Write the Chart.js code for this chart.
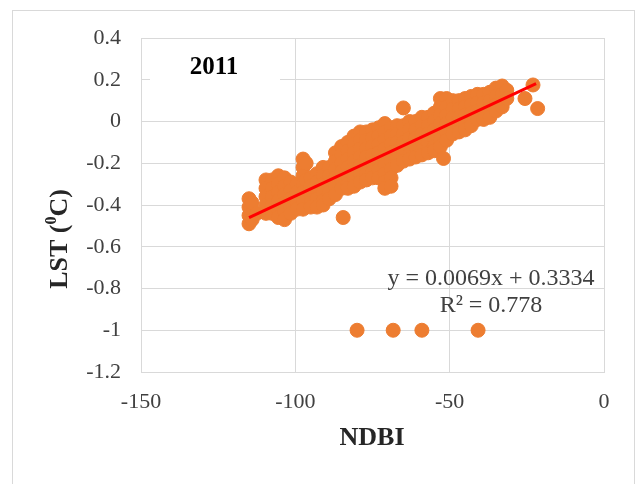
<!DOCTYPE html>
<html>
<head>
<meta charset="utf-8">
<script src="https://cdn.jsdelivr.net/npm/chart.js@4.4.0/dist/chart.umd.min.js"></script>
<style>
  html, body { margin: 0; padding: 0; background: #fff; }
  #wrap { width: 639px; height: 484px; position: relative; }
</style>
</head>
<body>
<div id="wrap"><canvas id="lst-chart" width="639" height="484"></canvas></div>
<script>
// LST vs NDBI scatter, 2011

// axis ticks
const xTicks = [-150, -100, -50, 0];
const yTicks = [0.4, 0.2, 0, -0.2, -0.4, -0.6, -0.8, -1, -1.2];

// main cloud of points [NDBI, LST]
const bandPoints = [
  [-115, -0.37], [-115, -0.41], [-115, -0.45], [-115, -0.49], [-114, -0.39], [-114, -0.47],
  [-112.5, -0.44],
  [-109.5, -0.28], [-109.5, -0.32], [-109.5, -0.36], [-109.5, -0.40], [-109.5, -0.44],
  [-107.5, -0.28], [-107.5, -0.32], [-107.5, -0.36], [-107.5, -0.40], [-107.5, -0.44],
  [-105.5, -0.26], [-105.5, -0.30], [-105.5, -0.34], [-105.5, -0.38], [-105.5, -0.42], [-105.5, -0.46],
  [-103.5, -0.27], [-103.5, -0.31], [-103.5, -0.35], [-103.5, -0.39], [-103.5, -0.43], [-103.5, -0.47],
  [-101.5, -0.29], [-101.5, -0.33], [-101.5, -0.37], [-101.5, -0.41], [-101.5, -0.44],
  [-99.5, -0.30], [-99.5, -0.34], [-99.5, -0.38], [-99.5, -0.42],
  [-97.5, -0.18], [-97.5, -0.22], [-97.5, -0.26], [-97.5, -0.30], [-97.5, -0.34], [-97.5, -0.38], [-97.5, -0.42],
  [-96.5, -0.20], [-96.5, -0.28],
  [-95, -0.27], [-95, -0.31], [-95, -0.35], [-95, -0.39], [-95, -0.41],
  [-93, -0.25], [-93, -0.29], [-93, -0.33], [-93, -0.37], [-93, -0.41],
  [-91, -0.22], [-91, -0.26], [-91, -0.30], [-91, -0.34], [-91, -0.38], [-91, -0.40],
  [-89, -0.22], [-89, -0.26], [-89, -0.30], [-89, -0.34], [-89, -0.37],
  [-87, -0.15], [-87, -0.19], [-87, -0.23], [-87, -0.27], [-87, -0.31], [-87, -0.35],
  [-85, -0.12], [-85, -0.16], [-85, -0.20], [-85, -0.24], [-85, -0.28], [-85, -0.32],
  [-83, -0.10], [-83, -0.14], [-83, -0.18], [-83, -0.22], [-83, -0.26], [-83, -0.30], [-83, -0.32],
  [-81, -0.07], [-81, -0.11], [-81, -0.15], [-81, -0.19], [-81, -0.23], [-81, -0.27], [-81, -0.31],
  [-79, -0.05], [-79, -0.09], [-79, -0.13], [-79, -0.17], [-79, -0.21], [-79, -0.25], [-79, -0.29],
  [-77, -0.05], [-77, -0.09], [-77, -0.13], [-77, -0.17], [-77, -0.21], [-77, -0.25], [-77, -0.28],
  [-75, -0.04], [-75, -0.08], [-75, -0.12], [-75, -0.16], [-75, -0.20], [-75, -0.24], [-75, -0.27],
  [-73, -0.03], [-73, -0.07], [-73, -0.11], [-73, -0.15], [-73, -0.19], [-73, -0.23], [-73, -0.27],
  [-71, -0.01], [-71, -0.05], [-71, -0.09], [-71, -0.13], [-71, -0.17], [-71, -0.21], [-71, -0.25], [-71, -0.29], [-71, -0.32],
  [-69, -0.03], [-69, -0.07], [-69, -0.11], [-69, -0.15], [-69, -0.19], [-69, -0.23], [-69, -0.27], [-69, -0.31],
  [-67, -0.02], [-67, -0.06], [-67, -0.10], [-67, -0.14], [-67, -0.18], [-67, -0.21],
  [-65, -0.02], [-65, -0.06], [-65, -0.10], [-65, -0.14], [-65, -0.19],
  [-63, 0.00], [-63, -0.04], [-63, -0.08], [-63, -0.12], [-63, -0.16], [-63, -0.18],
  [-61, 0.00], [-61, -0.04], [-61, -0.08], [-61, -0.12], [-61, -0.17],
  [-59, 0.02], [-59, -0.02], [-59, -0.06], [-59, -0.10], [-59, -0.14], [-59, -0.16],
  [-57, 0.02], [-57, -0.02], [-57, -0.06], [-57, -0.10], [-57, -0.15],
  [-55, 0.04], [-55, 0.00], [-55, -0.04], [-55, -0.08], [-55, -0.12], [-55, -0.14],
  [-53, 0.11], [-53, 0.07], [-53, 0.03], [-53, -0.01], [-53, -0.05], [-53, -0.09], [-53, -0.12],
  [-51, 0.11], [-51, 0.07], [-51, 0.03], [-51, -0.01], [-51, -0.05], [-51, -0.09],
  [-49, 0.10], [-49, 0.06], [-49, 0.02], [-49, -0.02], [-49, -0.06],
  [-47, 0.10], [-47, 0.06], [-47, 0.02], [-47, -0.02], [-47, -0.05],
  [-45, 0.11], [-45, 0.07], [-45, 0.03], [-45, -0.01], [-45, -0.04],
  [-43, 0.12], [-43, 0.08], [-43, 0.04], [-43, 0.00], [-43, -0.02],
  [-41, 0.13], [-41, 0.09], [-41, 0.05], [-41, 0.01],
  [-39, 0.13], [-39, 0.09], [-39, 0.05], [-39, 0.01],
  [-37, 0.14], [-37, 0.10], [-37, 0.06], [-37, 0.02],
  [-35, 0.16], [-35, 0.12], [-35, 0.08], [-35, 0.05],
  [-33, 0.17], [-33, 0.13], [-33, 0.09], [-33, 0.07],
  [-31.5, 0.15], [-31.5, 0.11]
];

// isolated points
const outlierPoints = [
  [-84.5, -0.46], [-65, 0.065], [-52, -0.177],
  [-25.6, 0.11], [-21.5, 0.062], [-23, 0.175],
  [-80, -1], [-68.3, -1], [-59, -1], [-40.8, -1]
];

// linear trendline from the fitted equation
const slope = 0.0069;
const intercept = 0.3334;
const r2 = 0.778;
const trendX = [-115, -22];

const orange = '#ED7D31';
const gridGrey = '#d9d9d9';
const serif = '"Liberation Serif", "Times New Roman", serif';

const toXY = p => ({ x: p[0], y: p[1] });
const scatterData = bandPoints.concat(outlierPoints).map(toXY);
const trendData = trendX.map(x => ({ x: x, y: slope * x + intercept }));

const decorPlugin = {
  id: 'decor',
  beforeDraw(chart) {
    const c = chart.ctx;
    c.save();
    c.fillStyle = '#fff';
    c.fillRect(0, 0, chart.width, chart.height);
    c.strokeStyle = gridGrey;
    c.lineWidth = 1;
    c.strokeRect(12.5, 10.5, 622, 520);
    c.restore();
  },
  beforeDatasetsDraw(chart) {
    // white text box of the year label covers the 0.2 gridline
    const c = chart.ctx;
    c.save();
    c.fillStyle = '#fff';
    c.fillRect(150, 46, 130, 44);
    c.fillStyle = '#000';
    c.font = 'bold 25px ' + serif;
    c.textAlign = 'center';
    c.textBaseline = 'middle';
    c.fillText('2011', 214, 68);
    c.restore();
  },
  afterDatasetsDraw(chart) {
    const c = chart.ctx;
    c.save();
    c.fillStyle = '#404040';
    c.font = '24px ' + serif;
    c.textAlign = 'center';
    c.textBaseline = 'middle';
    c.fillText('y = ' + slope.toFixed(4) + 'x + ' + intercept.toFixed(4), 491, 279);
    c.fillText('R\u00B2 = ' + r2, 491, 306);

    // x axis title
    c.fillStyle = '#262626';
    c.font = 'bold 26px ' + serif;
    c.fillText('NDBI', 372, 438);

    // y axis title with superscript 0
    c.translate(60, 239);
    c.rotate(-Math.PI / 2);
    const main = 'bold 26px ' + serif;
    const sup = 'bold 16px ' + serif;
    c.font = main;
    const w1 = c.measureText('LST (').width;
    const w3 = c.measureText('C)').width;
    c.font = sup;
    const w2 = c.measureText('0').width;
    let x0 = -(w1 + w2 + w3) / 2;
    c.textAlign = 'left';
    c.font = main;
    c.fillText('LST (', x0, 0);
    c.font = sup;
    c.fillText('0', x0 + w1, -8);
    c.font = main;
    c.fillText('C)', x0 + w1 + w2, 0);
    c.restore();
  }
};

new Chart(document.getElementById('lst-chart').getContext('2d'), {
  type: 'scatter',
  data: {
    datasets: [
      {
        type: 'line',
        label: 'Linear trend',
        data: trendData,
        borderColor: '#ff0000',
        borderWidth: 3,
        pointRadius: 0,
        fill: false,
        order: 0
      },
      {
        label: 'LST',
        data: scatterData,
        backgroundColor: orange,
        borderColor: orange,
        borderWidth: 1,
        pointRadius: 7,
        order: 1
      }
    ]
  },
  options: {
    responsive: false,
    animation: false,
    layout: { padding: { left: 0, top: 38, right: 35, bottom: 0 } },
    plugins: {
      legend: { display: false },
      tooltip: { enabled: false }
    },
    scales: {
      x: {
        type: 'linear',
        min: -150,
        max: 0,
        afterBuildTicks: s => { s.ticks = xTicks.map(v => ({ value: v })); },
        afterFit: s => { s.height = 112; },
        grid: { color: gridGrey, drawTicks: false },
        border: { color: gridGrey },
        ticks: {
          padding: 17,
          color: '#404040',
          font: { family: serif, size: 22 },
          callback: v => String(v)
        }
      },
      y: {
        type: 'linear',
        min: -1.2,
        max: 0.4,
        afterBuildTicks: s => { s.ticks = yTicks.map(v => ({ value: v })); },
        afterFit: s => { s.width = 141; },
        grid: { color: gridGrey, drawTicks: false },
        border: { color: gridGrey },
        ticks: {
          padding: 20,
          color: '#404040',
          font: { family: serif, size: 22 },
          callback: v => String(v)
        }
      }
    }
  },
  plugins: [decorPlugin]
});
</script>
</body>
</html>
